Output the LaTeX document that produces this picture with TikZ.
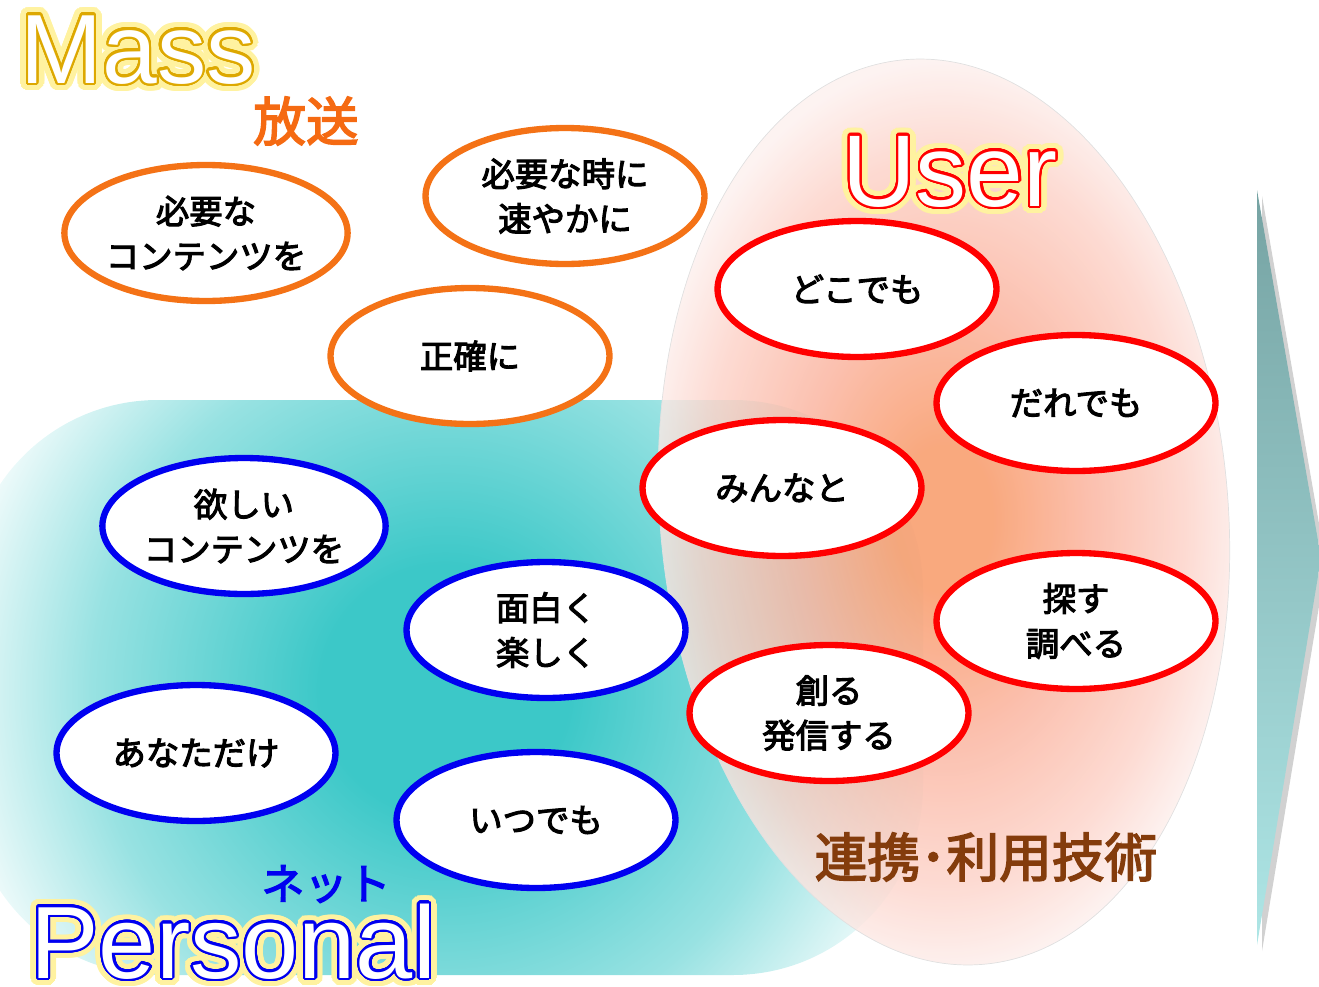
\documentclass[tikz,border=0pt]{standalone}
\usepackage{fontspec}
\usepackage{contour}
\setmainfont{Liberation Sans}
\newfontfamily\jpfont{Noto Sans CJK JP}[FakeBold=3.2]
\newfontfamily\jpbold{Noto Sans CJK JP}[FakeBold=3]
\usetikzlibrary{shapes.geometric}
\definecolor{massOrange}{HTML}{F47216}
\definecolor{hosoOrange}{HTML}{F56A12}
\definecolor{netBlue}{HTML}{0000F0}
\definecolor{userRed}{HTML}{FF0000}
\definecolor{massGold}{HTML}{DDA800}
\definecolor{glowY}{HTML}{FFF2A0}
\definecolor{techBrown}{HTML}{843C0C}
\definecolor{netC}{HTML}{3CC8C8}
\definecolor{netM}{HTML}{98E2E2}
\definecolor{userC}{HTML}{F8935E}
\definecolor{userM}{HTML}{FAB09A}
\definecolor{userL}{HTML}{FCD2C8}
\definecolor{userE}{HTML}{FDF0EE}
\definecolor{chevTop}{HTML}{76A3A3}
\definecolor{chevBot}{HTML}{AEE6E6}
\contournumber{32}
\pgfdeclareradialshading{netglow}{\pgfpoint{0bp}{0bp}}{color(0bp)=(netC); color(6bp)=(netC); color(17bp)=(netM); color(25bp)=(white); color(50bp)=(white)}
\pgfdeclareradialshading{userglow}{\pgfpoint{0bp}{0bp}}{color(0bp)=(userC); color(4bp)=(userC); color(12bp)=(userM); color(20bp)=(userL); color(25bp)=(userE); color(50bp)=(userE)}
% white letters, coloured edge, soft glow
\newcommand{\glowword}[3]{%
  {\contourlength{4.5pt}\rlap{\contour{#1}{\color{#1}#3}}}%
  {\contourlength{1.3pt}\contour{#2}{\color{white}#3}}}

\begin{document}
\begin{tikzpicture}[x=0.02cm,y=-0.02cm,
  bubble/.style={ellipse,draw,line width=3.6pt,fill=white,
    minimum width=5.58cm,minimum height=2.72cm,inner sep=0pt,
    align=center,text=black,font=\jpfont\fontsize{19}{25.5}\selectfont},
  mass bubble/.style={bubble,draw=massOrange},
  net bubble/.style={bubble,draw=netBlue},
  user bubble/.style={bubble,draw=userRed},
  big word/.style={anchor=base west,inner sep=0pt},
  jp title/.style={inner sep=0pt,font=\jpbold\fontsize{#1}{#1}\selectfont}]
  \useasboundingbox (0,0) rectangle (1319,987);

  % net area
  \begin{scope}
    \clip[rounded corners=3.8cm] (-32,400) rectangle (923,975);
    \shade[shading=netglow] (445,690) circle [radius=520];
  \end{scope}

  % user area
  \shade[shading=userglow,fill opacity=.8,rotate around={5:(944,512)}]
    (944,512) ellipse [x radius=284,y radius=454];
  \draw[black!12,line width=.4pt,rotate around={5:(944,512)}]
    (944,512) ellipse [x radius=284,y radius=454];

  % chevron
  \fill[black!40,opacity=.45] (1262,196) -- (1326,564) -- (1262,951) -- cycle;
  \shade[top color=chevTop,bottom color=chevBot]
    (1257,190) -- (1321,558) -- (1257,945) -- cycle;

  % mass
  \node[mass bubble] (needed) at (206,233) {必要な\\コンテンツを};
  \node[mass bubble] (quick) at (565,196) {必要な時に\\速やかに};
  \node[mass bubble] (exact) at (470,356) {正確に};

  % net
  \node[net bubble] (wanted) at (244,526) {欲しい\\コンテンツを};
  \node[net bubble] (fun) at (546,630) {面白く\\楽しく};
  \node[net bubble] (onlyyou) at (196,753) {あなただけ};
  \node[net bubble] (anytime) at (536,820) {いつでも};

  % user
  \node[user bubble] (anywhere) at (857,289) {どこでも};
  \node[user bubble] (anyone) at (1076,403) {だれでも};
  \node[user bubble] (together) at (782,488) {みんなと};
  \node[user bubble] (search) at (1076,621) {探す\\調べる};
  \node[user bubble] (create) at (829,713) {創る\\発信する};

  % titles
  \node[big word,font=\fontsize{56}{60}\selectfont] (mass) at (20,83)
    {\glowword{glowY}{massGold}{Mass}};
  \node[jp title=30,text=hosoOrange] (hoso) at (306,121) {放送};
  \node[big word,font=\fontsize{58}{60}\selectfont] (user) at (842,206)
    {\glowword{glowY}{userRed}{User}};
  \node[jp title=24.5,text=netBlue] (netto) at (326,884) {ネット};
  \node[big word,font=\fontsize{58.5}{60}\selectfont] (personal) at (30,978)
    {\glowword{glowY}{netBlue}{Personal}};
  \node[jp title=30,text=techBrown] (tech) at (986,857) {連携･利用技術};
\end{tikzpicture}
\end{document}
